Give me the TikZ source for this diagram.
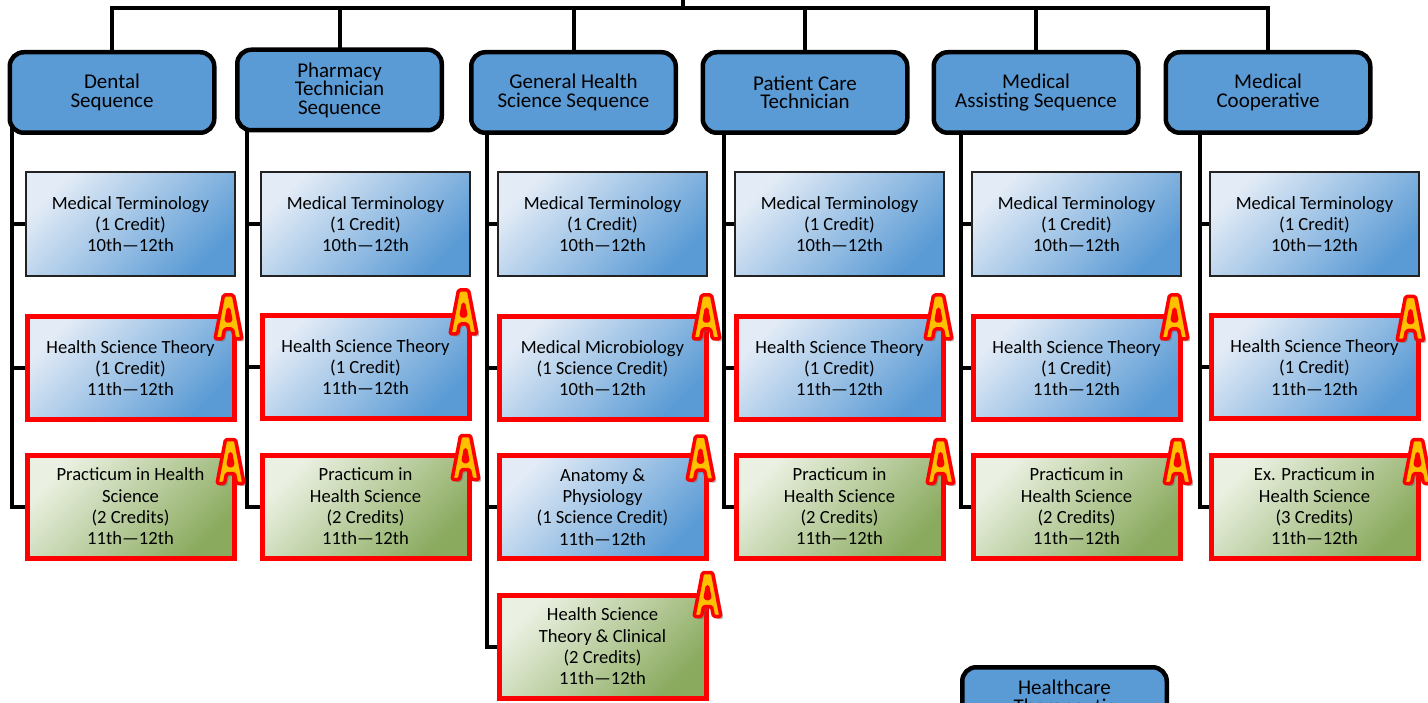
\documentclass[tikz,border=0pt]{standalone}
\usepackage{fontspec}
\setmainfont{Carlito}
\usetikzlibrary{backgrounds}
\definecolor{hdrblue}{HTML}{5B9BD5}
\definecolor{bluelight}{HTML}{E2EBF6}
\definecolor{bluedark}{HTML}{5B9BD5}
\definecolor{greenlight}{HTML}{EBF1E2}
\definecolor{greendark}{HTML}{8AAA5E}
\definecolor{ayellow}{HTML}{FFC000}
\definecolor{boxline}{HTML}{222222}
\tikzset{
  hdrfont/.style={font=\fontsize{21}{18.5}\selectfont},
  hdr/.style={draw=black, line width=4.5pt, rounded corners=14pt, fill=hdrblue,
    minimum width=204.5pt, minimum height=80.5pt, inner sep=0pt, align=center, hdrfont},
  bbox/.style={draw=boxline, line width=2pt, top color=bluelight, bottom color=bluedark,
    shading angle=45, minimum width=209pt, minimum height=104pt, inner sep=0pt,
    align=center, font=\fontsize{18.6}{21.3}\selectfont},
  rbbox/.style={bbox, draw=red, line width=5pt, minimum width=207pt, minimum height=103pt},
  rgbox/.style={rbbox, top color=greenlight, bottom color=greendark, shading angle=45},
  conn/.style={draw=black, line width=4pt},
  abadge/.pic={
    \fill[black!60, opacity=.45, even odd rule, shift={(2.5,2.5)}, rounded corners=1.5pt]
      (-13.5,22) -- (-5,-22) -- (5,-22) -- (13.5,22) -- (6,22) -- (4,12) -- (-4,12) -- (-6,22) -- cycle
      (-2.5,4) -- (0,-9) -- (2.5,4) -- cycle;
    \filldraw[fill=ayellow, draw=red, line width=3.5pt, line join=round, even odd rule, rounded corners=1.5pt]
      (-13.5,22) -- (-5,-22) -- (5,-22) -- (13.5,22) -- (6,22) -- (4,12) -- (-4,12) -- (-6,22) -- cycle
      (-2.5,4) -- (0,-9) -- (2.5,4) -- cycle;
  }
}
\begin{document}
\begin{tikzpicture}[x=1pt, y=-1pt]
\useasboundingbox (0,0) rectangle (1428,703);
\clip (0,0) rectangle (1428,703);
% headers
\node[hdr] (h1) at (112,92.5) {Dental\\Sequence};
\node[hdr] (h2) at (339.5,90) {Pharmacy\\Technician\\Sequence};
\node[hdr] (h3) at (573.5,92.5) {General Health\\Science Sequence};
\node[hdr] (h4) at (805,92.5) {Patient Care\\Technician};
\node[hdr] (h5) at (1036,92.5) {Medical\\Assisting Sequence};
\node[hdr] (h6) at (1268,92.5) {Medical\\Cooperative};
\node[hdr] (h7) at (1064.5,707.5) {};
\node[hdrfont, align=center, inner sep=0pt, anchor=north] (h7t) at (1064.5,680) {Healthcare\\Therapeutic};
% column 1
\node[bbox]  (c1r1) at (130.5,224) {Medical Terminology\\(1 Credit)\\10th—12th};
\node[rbbox] (c1r2) at (130.5,368) {Health Science Theory\\(1 Credit)\\11th—12th};
\node[rgbox] (c1r3) at (130.5,506.5) {Practicum in Health\\Science\\(2 Credits)\\11th—12th};
% column 2
\node[bbox]  (c2r1) at (365.5,224) {Medical Terminology\\(1 Credit)\\10th—12th};
\node[rbbox] (c2r2) at (365.5,367) {Health Science Theory\\(1 Credit)\\11th—12th};
\node[rgbox] (c2r3) at (365.5,506.5) {Practicum in\\Health Science\\(2 Credits)\\11th—12th};
% column 3
\node[bbox]  (c3r1) at (602.5,224) {Medical Terminology\\(1 Credit)\\10th—12th};
\node[rbbox] (c3r2) at (602.5,368) {Medical Microbiology\\(1 Science Credit)\\10th—12th};
\node[rbbox] (c3r3) at (602.5,507) {Anatomy \&\\Physiology\\(1 Science Credit)\\11th—12th};
\node[rgbox] (c3r4) at (602.5,646.5) {Health Science\\Theory \& Clinical\\(2 Credits)\\11th—12th};
% column 4
\node[bbox]  (c4r1) at (839.5,224) {Medical Terminology\\(1 Credit)\\10th—12th};
\node[rbbox] (c4r2) at (839.5,368) {Health Science Theory\\(1 Credit)\\11th—12th};
\node[rgbox] (c4r3) at (839.5,506.5) {Practicum in\\Health Science\\(2 Credits)\\11th—12th};
% column 5
\node[bbox]  (c5r1) at (1076.5,224) {Medical Terminology\\(1 Credit)\\10th—12th};
\node[rbbox] (c5r2) at (1076.5,368) {Health Science Theory\\(1 Credit)\\11th—12th};
\node[rgbox] (c5r3) at (1076.5,506.5) {Practicum in\\Health Science\\(2 Credits)\\11th—12th};
% column 6
\node[bbox]  (c6r1) at (1314.5,224) {Medical Terminology\\(1 Credit)\\10th—12th};
\node[rbbox] (c6r2) at (1314.5,367.5) {Health Science Theory\\(1 Credit)\\11th—12th};
\node[rgbox] (c6r3) at (1314.5,506.5) {Ex. Practicum in\\Health Science\\(3 Credits)\\11th—12th};
% badges
\pic at ([shift={(-8,3)}]c1r2.north east) {abadge};
\pic at ([shift={(-6,9)}]c1r3.north east) {abadge};
\pic at ([shift={(-8,-1)}]c2r2.north east) {abadge};
\pic at ([shift={(-6,5)}]c2r3.north east) {abadge};
\pic at ([shift={(-2,3)}]c3r2.north east) {abadge};
\pic at ([shift={(-8,5)}]c3r3.north east) {abadge};
\pic at ([shift={(-1,2)}]c3r4.north east) {abadge};
\pic at ([shift={(-7,3)}]c4r2.north east) {abadge};
\pic at ([shift={(-5,9)}]c4r3.north east) {abadge};
\pic at ([shift={(-8,3)}]c5r2.north east) {abadge};
\pic at ([shift={(-5,9)}]c5r3.north east) {abadge};
\pic at ([shift={(-10,5)}]c6r2.north east) {abadge};
\pic at ([shift={(-3,9)}]c6r3.north east) {abadge};
% connectors
\coordinate (bus) at (683,8);
\coordinate (busup) at (683,-10);
\coordinate (s1) at (12,0);
\coordinate (s2) at (247,0);
\coordinate (s3) at (487,0);
\coordinate (s4) at (724,0);
\coordinate (s5) at (961,0);
\coordinate (s6) at (1200,0);
\begin{scope}[on background layer]
\draw[conn] (busup) -- (bus);
\draw[conn] (h1.center) -- (h1.center |- bus) -- (h6.center |- bus) -- (h6.center);
\foreach \h in {h2,h3,h4,h5} \draw[conn] (\h.center) -- (\h.center |- bus);
\draw[conn] (s1 |- h1.center) |- (c1r3.west);
\draw[conn] (s2 |- h2.center) |- (c2r3.west);
\draw[conn] (s3 |- h3.center) |- (c3r4.west);
\draw[conn] (s4 |- h4.center) |- (c4r3.west);
\draw[conn] (s5 |- h5.center) |- (c5r3.west);
\draw[conn] (s6 |- h6.center) |- (c6r3.west);
\foreach \c/\s in {c1r1/s1,c1r2/s1,c2r1/s2,c2r2/s2,c3r1/s3,c3r2/s3,c3r3/s3,c4r1/s4,c4r2/s4,c5r1/s5,c5r2/s5,c6r1/s6,c6r2/s6}
  \draw[conn] (\s |- \c.west) -- (\c.west);
\end{scope}
\end{tikzpicture}
\end{document}
